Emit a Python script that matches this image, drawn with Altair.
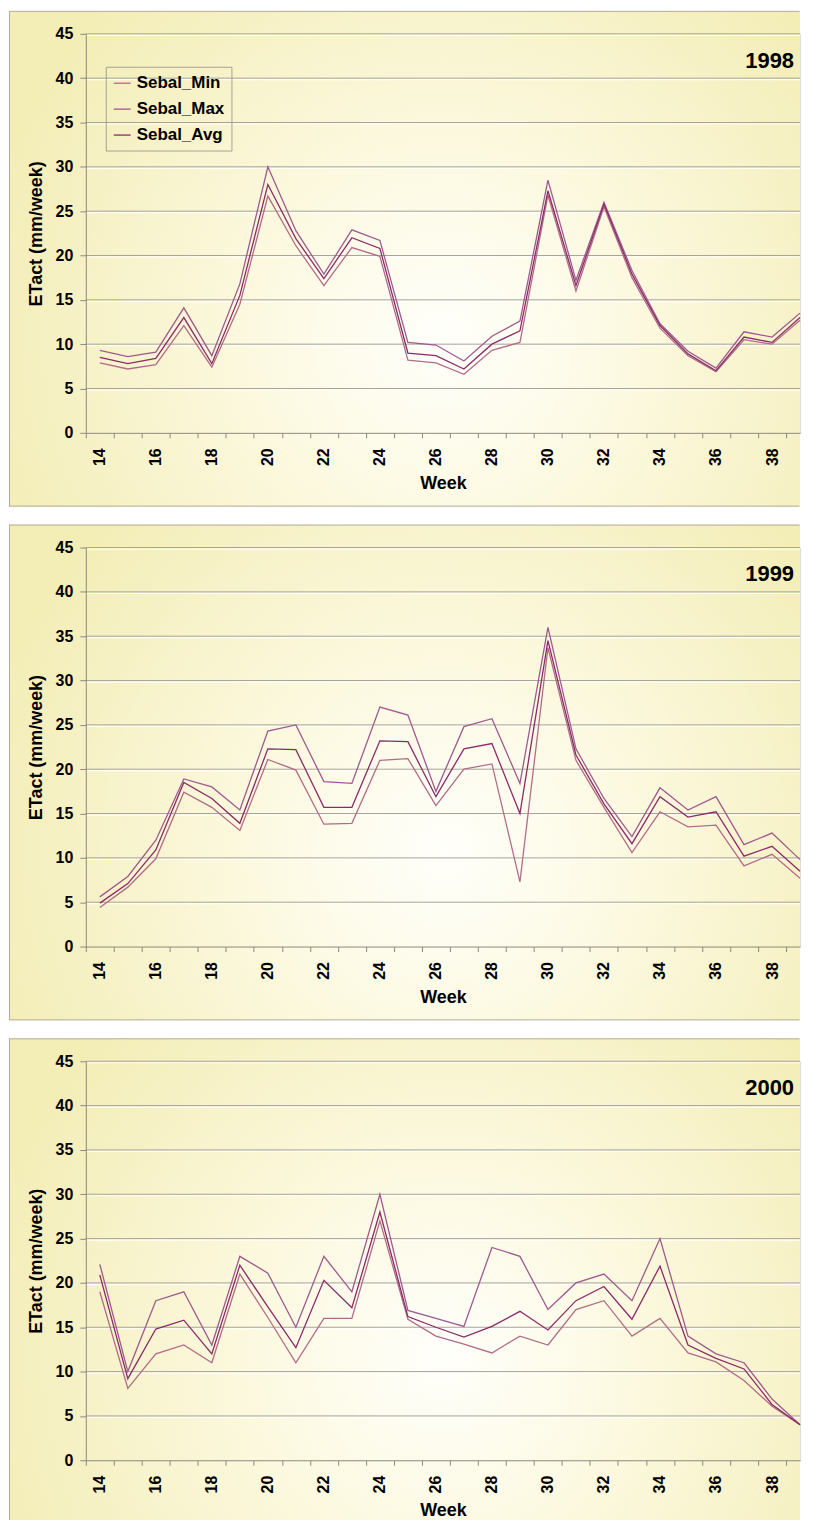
import altair as alt
import pandas as pd

# Weekly actual evapotranspiration (SEBAL), mm/week
WEEKS = list(range(14, 40))
SERIES = ["Sebal_Min", "Sebal_Max", "Sebal_Avg"]
SERIES_COLORS = ["#B26C88", "#9E5A8F", "#8A2B69"]
SERIES_WIDTHS = [1.3, 1.3, 2.7]
Y_TICKS = list(range(0, 50, 5))

MIN_1998 = [7.9, 7.2, 7.7, 12.1, 7.4, 14.5, 26.7, 21.1, 16.6, 20.9, 19.9, 8.2, 7.9,
            6.6, 9.3, 10.2, 26.8, 16.0, 25.5, 17.5, 11.8, 8.7, 6.9, 10.5, 10.0, 12.7]
MAX_1998 = [9.3, 8.6, 9.1, 14.1, 8.7, 16.8, 30.0, 22.8, 17.9, 22.9, 21.7, 10.2, 9.9,
            8.1, 10.9, 12.6, 28.5, 17.2, 26.0, 18.3, 12.3, 9.2, 7.3, 11.4, 10.8, 13.5]
AVG_1998 = [8.5, 7.8, 8.4, 13.0, 7.8, 15.5, 28.0, 21.9, 17.4, 22.0, 20.8, 9.0, 8.7,
            7.2, 10.0, 11.5, 27.3, 16.6, 25.8, 17.9, 12.1, 8.9, 7.0, 10.8, 10.2, 13.0]

MIN_1999 = [4.4, 6.7, 9.9, 17.4, 15.7, 13.1, 21.1, 19.9, 13.8, 13.9, 21.0, 21.2, 15.9,
            20.0, 20.6, 7.3, 33.7, 21.0, 15.7, 10.6, 15.2, 13.5, 13.7, 9.1, 10.4, 7.7]
MAX_1999 = [5.6, 7.9, 12.0, 18.9, 18.0, 15.4, 24.3, 25.0, 18.6, 18.4, 27.0, 26.1, 17.5,
            24.8, 25.7, 18.4, 36.0, 22.3, 16.7, 12.4, 17.9, 15.4, 16.9, 11.5, 12.8, 9.8]
AVG_1999 = [4.9, 7.1, 10.9, 18.5, 16.7, 13.9, 22.3, 22.2, 15.7, 15.7, 23.2, 23.1, 16.9,
            22.3, 22.9, 15.0, 34.5, 21.6, 16.1, 11.6, 16.9, 14.6, 15.2, 10.2, 11.3, 8.5]

MIN_2000 = [19.0, 8.1, 12.0, 13.0, 11.0, 21.0, 16.1, 11.0, 16.0, 16.0, 27.0, 15.9, 14.0,
            13.1, 12.1, 14.0, 13.0, 17.0, 18.0, 14.0, 16.0, 12.1, 11.1, 9.0, 6.1, 4.0]
MAX_2000 = [22.1, 10.0, 18.0, 19.0, 13.0, 23.0, 21.1, 15.0, 23.0, 19.0, 30.0, 16.9, 16.0,
            15.1, 24.0, 23.0, 17.0, 20.0, 21.0, 18.0, 25.0, 14.0, 12.0, 11.0, 6.9, 4.0]
AVG_2000 = [20.9, 9.2, 14.8, 15.8, 12.0, 22.0, 17.3, 12.7, 20.3, 17.2, 28.0, 16.2, 15.0,
            13.9, 15.1, 16.8, 14.7, 18.0, 19.6, 15.9, 21.9, 13.0, 11.5, 10.3, 6.3, 4.0]

# layout (the whole chart has to fit the page width or the svg gets shrunk)
PLOT_W = 716
PLOT_H = 400
LEFT = 77
TOP = 23
X_DOMAIN = [13.5, 39.0]   # last band is cut off at the right edge, like the original
BAND = PLOT_W / (X_DOMAIN[1] - X_DOMAIN[0])
FONT = "Liberation Sans"
BORDER = "#B3AD9C"
AXIS_GREY = "#8E897E"

BG_GRADIENT = {
    "gradient": "radial",
    "x1": 0.55, "y1": 0.6, "r1": 0,
    "x2": 0.55, "y2": 0.6, "r2": 0.6,
    "stops": [
        {"offset": 0, "color": "#FFFFFB"},
        {"offset": 0.4, "color": "#FCF9E0"},
        {"offset": 1, "color": "#F3EDB6"},
    ],
}

x_scale = alt.Scale(domain=X_DOMAIN, nice=False, zero=False)
y_scale = alt.Scale(domain=[0, 45], nice=False)

x_axis = alt.Axis(
    title="Week", values=WEEKS,
    labelExpr="datum.value % 2 == 0 ? datum.label : ''",
    labelAngle=270, labelAlign="right", labelBaseline="middle",
    tickOffset=-BAND / 2, labelOffset=BAND / 2,
    grid=False, domainColor=AXIS_GREY, tickColor=AXIS_GREY, tickSize=5,
    labelPadding=10, labelFont=FONT, labelFontSize=16, labelFontWeight="bold",
    labelColor="black", labelOverlap=False, labelFlush=False, labelBound=False,
    titleFont=FONT, titleFontSize=18, titleFontWeight="bold", titleColor="black",
    titlePadding=9, zindex=1,
)
y_axis = alt.Axis(
    title="ETact (mm/week)", values=Y_TICKS,
    grid=False, domainColor=AXIS_GREY, tickColor=AXIS_GREY, tickSize=6,
    labelPadding=7, labelFont=FONT, labelFontSize=16, labelFontWeight="bold",
    labelColor="black", labelFlush=False,
    titleFont=FONT, titleFontSize=18, titleFontWeight="bold", titleColor="black",
    titlePadding=10, zindex=1,
)
legend = alt.Legend(
    title=None, orient="none", legendX=20, legendY=33,
    symbolType="stroke", symbolSize=289, labelOffset=5,
    labelFont=FONT, labelFontSize=17, labelFontWeight="bold", labelColor="black",
    strokeColor="#A8A294", padding=7, rowPadding=8,
)


def make_panel(year, mins, maxs, avgs, box_bottom, bottom_border=True):
    long = pd.DataFrame({
        "week": WEEKS * 3,
        "series": [s for s in SERIES for _ in WEEKS],
        "value": mins + maxs + avgs,
    })
    one = pd.DataFrame({"label": [str(year)]})
    grid = pd.DataFrame({"v": Y_TICKS[1:]})

    bg = alt.Chart(one).mark_rect(fill=BG_GRADIENT, strokeWidth=0).encode(
        x=alt.value(-LEFT), x2=alt.value(PLOT_W),
        y=alt.value(-TOP), y2=alt.value(box_bottom),
    )
    shade = alt.Chart(grid).mark_rule(color="white", strokeWidth=1.2, yOffset=1.5, opacity=0.9).encode(
        y=alt.Y("v:Q", scale=y_scale, axis=y_axis)
    )
    rules = alt.Chart(grid).mark_rule(color="#A9A395", strokeWidth=1).encode(
        y=alt.Y("v:Q", scale=y_scale, axis=y_axis)
    )
    lines = alt.Chart(long).mark_line().encode(
        x=alt.X("week:Q", scale=x_scale, axis=x_axis),
        y=alt.Y("value:Q", scale=y_scale, axis=y_axis),
        color=alt.Color("series:N", scale=alt.Scale(domain=SERIES, range=SERIES_COLORS), legend=legend),
        strokeWidth=alt.StrokeWidth("series:N", scale=alt.Scale(domain=SERIES, range=SERIES_WIDTHS), legend=legend),
    )
    tag = alt.Chart(one).mark_text(
        align="right", baseline="middle", font=FONT, fontSize=22, fontWeight="bold", color="black"
    ).encode(x=alt.value(PLOT_W - 6), y=alt.value(27), text="label:N")

    left_edge = alt.Chart(one).mark_rule(color=BORDER, strokeWidth=1).encode(
        x=alt.value(-LEFT + 0.5), y=alt.value(-TOP), y2=alt.value(box_bottom)
    )
    top_edge = alt.Chart(one).mark_rule(color=BORDER, strokeWidth=1).encode(
        x=alt.value(-LEFT + 0.5), x2=alt.value(PLOT_W - 0.5), y=alt.value(-TOP + 0.5)
    )
    layers = [bg, shade, rules, lines, tag, left_edge, top_edge]
    if bottom_border:
        layers.append(alt.Chart(one).mark_rule(color=BORDER, strokeWidth=1).encode(
            x=alt.value(-LEFT + 0.5), x2=alt.value(PLOT_W - 0.5), y=alt.value(box_bottom - 0.5)
        ))
    return alt.layer(*layers).properties(width=PLOT_W, height=PLOT_H)


chart = alt.vconcat(
    make_panel(1998, MIN_1998, MAX_1998, AVG_1998, PLOT_H + 74),
    make_panel(1999, MIN_1999, MAX_1999, AVG_1999, PLOT_H + 74),
    make_panel(2000, MIN_2000, MAX_2000, AVG_2000, PLOT_H + 60, bottom_border=False),
    spacing=16,
).properties(padding=0).configure_view(stroke=None).configure(background="white")

chart.save("out.html", embed_options={"renderer": "svg", "actions": False})
